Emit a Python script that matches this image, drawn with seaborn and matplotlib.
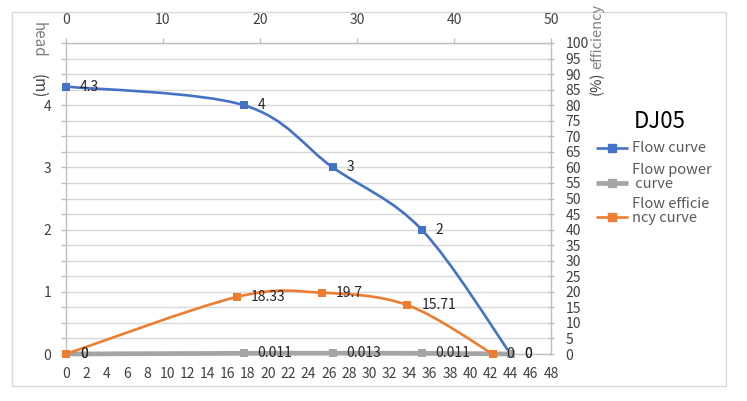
import numpy as np
import matplotlib
matplotlib.use("Agg")
import matplotlib.pyplot as plt
from matplotlib.path import Path
from matplotlib.patches import PathPatch, Rectangle
from matplotlib.lines import Line2D
import seaborn as sns

# data
flow = [0, 17.6, 26.4, 35.2, 44]
head = [4.3, 4, 3, 2, 0]
power = [0, 0.011, 0.013, 0.011, 0]
efficiency = [0, 18.33, 19.7, 15.71, 0]
head_labels = ["4.3", "4", "3", "2", "0"]
power_labels = ["0", "0.011", "0.013", "0.011", "0"]
eff_labels = ["0", "18.33", "19.7", "15.71", "0"]
bottom_ticks = list(range(0, 49, 2))
top_ticks = list(range(0, 51, 10))
head_ticks = [0, 1, 2, 3, 4]
eff_ticks = list(range(0, 101, 5))

BLUE = "#4472C4"
GRAY = "#A5A5A5"
ORANGE = "#ED7D31"
AXIS = "#BFBFBF"
GRID = "#D9D9D9"
TXT = "#404040"

sns.set_style("white")
plt.rcParams["font.family"] = ["Noto Sans CJK SC", "DejaVu Sans"]


def smooth_path(xs, ys):
    # Catmull-Rom style bezier through the points, like Excel's smoothed line
    pts = np.column_stack([xs, ys]).astype(float)
    n = len(pts)
    verts = [pts[0]]
    codes = [Path.MOVETO]
    for i in range(n - 1):
        p0 = pts[max(i - 1, 0)]
        p1 = pts[i]
        p2 = pts[i + 1]
        p3 = pts[min(i + 2, n - 1)]
        verts += [p1 + (p2 - p0) / 6, p2 - (p3 - p1) / 6, p2]
        codes += [Path.CURVE4] * 3
    return Path(verts, codes)


fig = plt.figure(figsize=(7.47, 4.01), dpi=100)
ax = fig.add_axes([66 / 747, 1 - 354 / 401, 485 / 747, 311 / 401])
ax2 = ax.twinx()
ax3 = ax2.twiny()

# outer chart border
fig.patches.append(Rectangle((12 / 747, 1 - 386 / 401), 714 / 747, 374 / 401,
                             transform=fig.transFigure, fill=False,
                             edgecolor=GRID, lw=1))

ax.set_xlim(0, 48)
ax.set_ylim(0, 5)
ax2.set_ylim(0, 100)
ax3.set_xlim(0, 50)

# grid
ax.set_yticks(np.arange(0, 5.01, 0.25), minor=True)
ax.yaxis.grid(True, which="both", color=GRID, lw=1)
ax.set_axisbelow(True)

ax.set_xticks(bottom_ticks)
ax.set_yticks(head_ticks)
ax2.set_yticks(eff_ticks)
ax3.set_xticks(top_ticks)

for a in (ax, ax2, ax3):
    for s in a.spines.values():
        s.set_visible(False)
for a, s in ((ax, "left"), (ax, "bottom"), (ax2, "right"), (ax3, "top")):
    a.spines[s].set_visible(True)
    a.spines[s].set_color(AXIS)
    a.spines[s].set_linewidth(1)

ax.tick_params(axis="x", which="major", direction="out", length=3, width=1,
               color=AXIS, labelsize=10, labelcolor=TXT, pad=6)
ax.tick_params(axis="y", which="both", direction="out", length=3.5, width=1,
               color=AXIS, labelsize=10, labelcolor=TXT, pad=7)
ax2.tick_params(axis="y", direction="inout", length=5, width=1, color=AXIS,
                labelsize=10, labelcolor=TXT, pad=8)
ax3.tick_params(axis="x", direction="out", length=3.5, width=1, color=AXIS,
                labelsize=10, labelcolor=TXT, pad=8)

# curves
ax.add_patch(PathPatch(smooth_path(flow, head), facecolor="none",
                       edgecolor=BLUE, lw=1.9, clip_on=False, zorder=3))
ax.add_patch(PathPatch(smooth_path(flow, power), facecolor="none",
                       edgecolor=GRAY, lw=3.4, clip_on=False, zorder=3))
ax3.add_patch(PathPatch(smooth_path(flow, efficiency), facecolor="none",
                        edgecolor=ORANGE, lw=1.9, clip_on=False, zorder=3))

sns.scatterplot(x=flow, y=head, ax=ax, marker="s", s=36, color=BLUE,
                edgecolor=BLUE, linewidth=0, clip_on=False, zorder=4)
sns.scatterplot(x=flow, y=power, ax=ax, marker="s", s=36, color=GRAY,
                edgecolor=GRAY, linewidth=0, clip_on=False, zorder=4)
sns.scatterplot(x=flow, y=efficiency, ax=ax3, marker="s", s=36, color=ORANGE,
                edgecolor=ORANGE, linewidth=0, clip_on=False, zorder=4)

# data labels
for a, ys, labs in ((ax, head, head_labels), (ax, power, power_labels),
                    (ax3, efficiency, eff_labels)):
    for x, y, t in zip(flow, ys, labs):
        a.annotate(t, (x, y), xytext=(10, 0), textcoords="offset points",
                   ha="left", va="center", fontsize=10, color="#262626",
                   zorder=5, annotation_clip=False)

# axis titles
fig.text(38 / 747, 1 - 40 / 401, "head", rotation=270, ha="center",
         va="center", fontsize=11, color="#7F7F7F")
fig.text(38 / 747, 1 - 86 / 401, "(m)", rotation=270, ha="center",
         va="center", fontsize=11, color="#404040")
fig.text(597 / 747, 1 - 95 / 401, "(%)", rotation=90, ha="center",
         va="bottom", fontsize=10.5, color="#404040")
fig.text(597 / 747, 1 - 69 / 401, "efficiency", rotation=90, ha="center",
         va="bottom", fontsize=10.5, color="#7F7F7F")

# legend, drawn by hand to follow the Excel layout
fig.text(660 / 747, 1 - 121 / 401, "DJ05", ha="center", va="center",
         fontsize=16, color="black")
entries = [(BLUE, 1.9, 148, 148, "Flow curve"),
           (GRAY, 3.4, 183, 177, "Flow power\n curve"),
           (ORANGE, 1.9, 217, 211, "Flow efficie\nncy curve")]
for col, lw, hy, ty, lab in entries:
    fig.add_artist(Line2D([596 / 747, 628 / 747], [1 - hy / 401, 1 - hy / 401],
                          transform=fig.transFigure, color=col, lw=lw,
                          solid_capstyle="butt"))
    fig.add_artist(Line2D([612 / 747], [1 - hy / 401], transform=fig.transFigure,
                          color=col, marker="s", markersize=6, lw=0))
    fig.text(632 / 747, 1 - ty / 401, lab, ha="left", va="center",
             fontsize=10.5, color="#595959", linespacing=0.95)

fig.savefig("out.png", dpi=100)
